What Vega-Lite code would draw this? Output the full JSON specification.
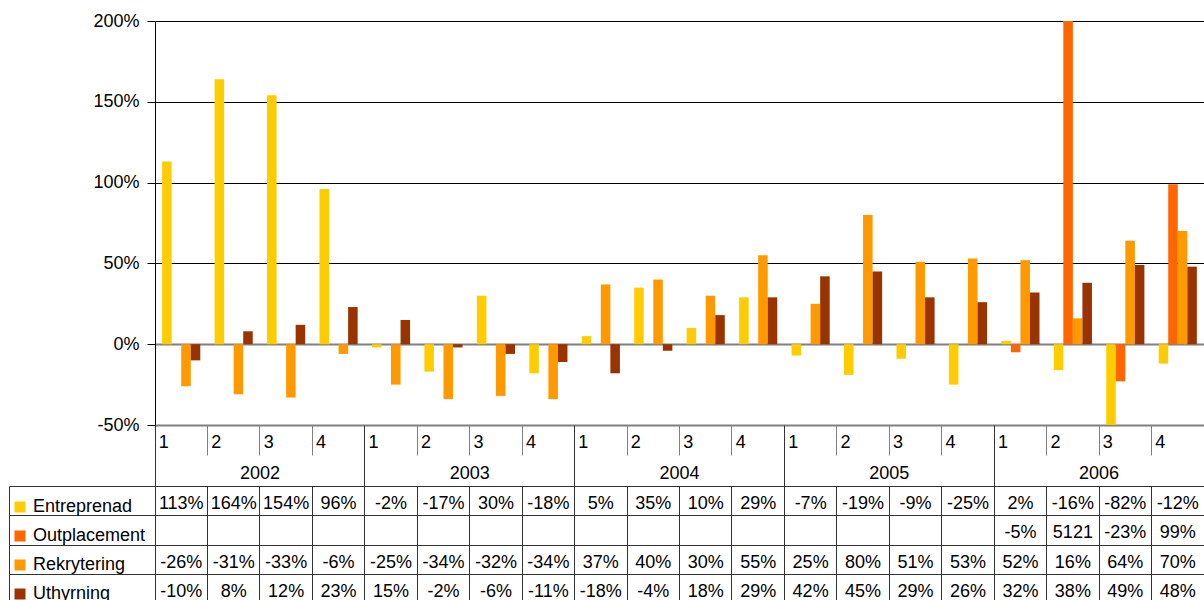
{
  "$schema": "https://vega.github.io/schema/vega-lite/v6.json",
  "width": 1049,
  "height": 404,
  "autosize": {"type": "none"},
  "padding": {"left": 155, "top": 21, "right": 0, "bottom": 175},
  "background": "white",
  "config": {
    "font": "Liberation Sans",
    "view": {"stroke": null},
    "text": {"font": "Liberation Sans"}
  },
  "datasets": {
    "vals": [
      {"q": "2002-1", "series": "Entreprenad", "pct": 113, "label": "113%"},
      {"q": "2002-2", "series": "Entreprenad", "pct": 164, "label": "164%"},
      {"q": "2002-3", "series": "Entreprenad", "pct": 154, "label": "154%"},
      {"q": "2002-4", "series": "Entreprenad", "pct": 96, "label": "96%"},
      {"q": "2003-1", "series": "Entreprenad", "pct": -2, "label": "-2%"},
      {"q": "2003-2", "series": "Entreprenad", "pct": -17, "label": "-17%"},
      {"q": "2003-3", "series": "Entreprenad", "pct": 30, "label": "30%"},
      {"q": "2003-4", "series": "Entreprenad", "pct": -18, "label": "-18%"},
      {"q": "2004-1", "series": "Entreprenad", "pct": 5, "label": "5%"},
      {"q": "2004-2", "series": "Entreprenad", "pct": 35, "label": "35%"},
      {"q": "2004-3", "series": "Entreprenad", "pct": 10, "label": "10%"},
      {"q": "2004-4", "series": "Entreprenad", "pct": 29, "label": "29%"},
      {"q": "2005-1", "series": "Entreprenad", "pct": -7, "label": "-7%"},
      {"q": "2005-2", "series": "Entreprenad", "pct": -19, "label": "-19%"},
      {"q": "2005-3", "series": "Entreprenad", "pct": -9, "label": "-9%"},
      {"q": "2005-4", "series": "Entreprenad", "pct": -25, "label": "-25%"},
      {"q": "2006-1", "series": "Entreprenad", "pct": 2, "label": "2%"},
      {"q": "2006-2", "series": "Entreprenad", "pct": -16, "label": "-16%"},
      {"q": "2006-3", "series": "Entreprenad", "pct": -82, "label": "-82%"},
      {"q": "2006-4", "series": "Entreprenad", "pct": -12, "label": "-12%"},
      {"q": "2006-1", "series": "Outplacement", "pct": -5, "label": "-5%"},
      {"q": "2006-2", "series": "Outplacement", "pct": 5121, "label": "5121"},
      {"q": "2006-3", "series": "Outplacement", "pct": -23, "label": "-23%"},
      {"q": "2006-4", "series": "Outplacement", "pct": 99, "label": "99%"},
      {"q": "2002-1", "series": "Rekrytering", "pct": -26, "label": "-26%"},
      {"q": "2002-2", "series": "Rekrytering", "pct": -31, "label": "-31%"},
      {"q": "2002-3", "series": "Rekrytering", "pct": -33, "label": "-33%"},
      {"q": "2002-4", "series": "Rekrytering", "pct": -6, "label": "-6%"},
      {"q": "2003-1", "series": "Rekrytering", "pct": -25, "label": "-25%"},
      {"q": "2003-2", "series": "Rekrytering", "pct": -34, "label": "-34%"},
      {"q": "2003-3", "series": "Rekrytering", "pct": -32, "label": "-32%"},
      {"q": "2003-4", "series": "Rekrytering", "pct": -34, "label": "-34%"},
      {"q": "2004-1", "series": "Rekrytering", "pct": 37, "label": "37%"},
      {"q": "2004-2", "series": "Rekrytering", "pct": 40, "label": "40%"},
      {"q": "2004-3", "series": "Rekrytering", "pct": 30, "label": "30%"},
      {"q": "2004-4", "series": "Rekrytering", "pct": 55, "label": "55%"},
      {"q": "2005-1", "series": "Rekrytering", "pct": 25, "label": "25%"},
      {"q": "2005-2", "series": "Rekrytering", "pct": 80, "label": "80%"},
      {"q": "2005-3", "series": "Rekrytering", "pct": 51, "label": "51%"},
      {"q": "2005-4", "series": "Rekrytering", "pct": 53, "label": "53%"},
      {"q": "2006-1", "series": "Rekrytering", "pct": 52, "label": "52%"},
      {"q": "2006-2", "series": "Rekrytering", "pct": 16, "label": "16%"},
      {"q": "2006-3", "series": "Rekrytering", "pct": 64, "label": "64%"},
      {"q": "2006-4", "series": "Rekrytering", "pct": 70, "label": "70%"},
      {"q": "2002-1", "series": "Uthyrning", "pct": -10, "label": "-10%"},
      {"q": "2002-2", "series": "Uthyrning", "pct": 8, "label": "8%"},
      {"q": "2002-3", "series": "Uthyrning", "pct": 12, "label": "12%"},
      {"q": "2002-4", "series": "Uthyrning", "pct": 23, "label": "23%"},
      {"q": "2003-1", "series": "Uthyrning", "pct": 15, "label": "15%"},
      {"q": "2003-2", "series": "Uthyrning", "pct": -2, "label": "-2%"},
      {"q": "2003-3", "series": "Uthyrning", "pct": -6, "label": "-6%"},
      {"q": "2003-4", "series": "Uthyrning", "pct": -11, "label": "-11%"},
      {"q": "2004-1", "series": "Uthyrning", "pct": -18, "label": "-18%"},
      {"q": "2004-2", "series": "Uthyrning", "pct": -4, "label": "-4%"},
      {"q": "2004-3", "series": "Uthyrning", "pct": 18, "label": "18%"},
      {"q": "2004-4", "series": "Uthyrning", "pct": 29, "label": "29%"},
      {"q": "2005-1", "series": "Uthyrning", "pct": 42, "label": "42%"},
      {"q": "2005-2", "series": "Uthyrning", "pct": 45, "label": "45%"},
      {"q": "2005-3", "series": "Uthyrning", "pct": 29, "label": "29%"},
      {"q": "2005-4", "series": "Uthyrning", "pct": 26, "label": "26%"},
      {"q": "2006-1", "series": "Uthyrning", "pct": 32, "label": "32%"},
      {"q": "2006-2", "series": "Uthyrning", "pct": 38, "label": "38%"},
      {"q": "2006-3", "series": "Uthyrning", "pct": 49, "label": "49%"},
      {"q": "2006-4", "series": "Uthyrning", "pct": 48, "label": "48%"}
    ],
    "years": [
      {"q": "2002-3", "year": "2002"},
      {"q": "2003-3", "year": "2003"},
      {"q": "2004-3", "year": "2004"},
      {"q": "2005-3", "year": "2005"},
      {"q": "2006-3", "year": "2006"}
    ]
  },
  "layer": [
    {
      "data": {"name": "vals"},
      "mark": {"type": "bar", "clip": true},
      "encoding": {
        "x": {
          "field": "q", "type": "nominal",
          "scale": {"type": "band", "paddingInner": 0, "paddingOuter": 0},
          "axis": {
            "orient": "bottom", "title": null, "bandPosition": 0,
            "tickSize": 30, "tickColor": "#808080", "tickWidth": 1,
            "domainColor": "#808080", "domainWidth": 2,
            "labelExpr": "slice(datum.value, 5)", "labelAlign": "left", "labelBaseline": "alphabetic",
            "labelPadding": -8, "labelOffset": -22.5, "labelAngle": 0,
            "labelFontSize": 18, "labelColor": "#000",
            "labelOverlap": false, "labelBound": false, "labelFlush": false, "grid": false
          }
        },
        "xOffset": {
          "field": "series", "type": "nominal",
          "scale": {"type": "band", "paddingInner": 0, "paddingOuter": 0.75,
                    "domain": ["Entreprenad", "Outplacement", "Rekrytering", "Uthyrning"]}
        },
        "y": {
          "field": "pct", "type": "quantitative",
          "scale": {"domain": [-50, 200], "nice": false},
          "axis": {
            "orient": "left", "title": null, "values": [-50, 0, 50, 100, 150, 200],
            "labelExpr": "datum.value + '%'", "labelFontSize": 18, "labelColor": "#000",
            "labelPadding": 8, "tickSize": 8, "tickColor": "#000", "domainColor": "#000",
            "grid": true,
            "gridColor": {"condition": {"test": "datum.value === 0 || datum.value === -50", "value": "#808080"}, "value": "#000"},
            "gridWidth": {"condition": {"test": "datum.value === 0", "value": 2}, "value": 1}
          }
        },
        "color": {
          "field": "series", "type": "nominal",
          "scale": {"domain": ["Entreprenad", "Outplacement", "Rekrytering", "Uthyrning"],
                    "range": ["#FFCC00", "#FF6600", "#FF9900", "#993300"]},
          "legend": {
            "orient": "none", "legendX": -144, "legendY": 477, "title": null,
            "padding": 0, "symbolType": "square", "symbolSize": 121, "symbolStrokeWidth": 0,
            "labelFontSize": 18, "labelColor": "#000", "labelOffset": 4, "rowPadding": 11
          }
        }
      }
    },
    {
      "data": {"name": "vals"},
      "mark": {"type": "text", "fontSize": 18, "color": "#000", "baseline": "alphabetic", "dy": 8},
      "encoding": {
        "x": {
          "field": "q", "type": "nominal", "scale": {"type": "band"},
          "axis": {
            "orient": "bottom", "title": null, "offset": 61, "bandPosition": 0,
            "tickSize": 120, "tickColor": "#333", "labels": false,
            "domain": true, "domainColor": "#333", "grid": false
          }
        },
        "y": {
          "field": "series", "type": "nominal",
          "scale": {"type": "band", "domain": ["Entreprenad", "Outplacement", "Rekrytering", "Uthyrning"],
                    "range": [465, 583], "paddingInner": 0, "paddingOuter": 0},
          "axis": {
            "orient": "left", "title": null, "offset": 146, "bandPosition": 0,
            "tickSize": -146, "tickColor": "#333", "labels": false,
            "domain": true, "domainColor": "#333", "grid": true, "gridColor": "#333"
          }
        },
        "text": {"field": "label"}
      }
    },
    {
      "data": {"name": "years"},
      "mark": {"type": "text", "fontSize": 18, "color": "#000", "baseline": "alphabetic", "dy": 8},
      "encoding": {
        "x": {
          "field": "q", "type": "nominal", "bandPosition": 0, "scale": {"type": "band"},
          "axis": {
            "orient": "bottom", "title": null, "bandPosition": 0,
            "values": ["2002-1", "2003-1", "2004-1", "2005-1", "2006-1"],
            "tickSize": 61, "tickColor": "#333", "labels": false, "domain": false, "grid": false
          }
        },
        "y": {
          "datum": "Y", "type": "nominal",
          "scale": {"type": "band", "domain": ["Y"], "range": [434, 465], "paddingInner": 0, "paddingOuter": 0},
          "axis": null
        },
        "text": {"field": "year"}
      }
    }
  ],
  "resolve": {
    "scale": {"y": "independent"},
    "axis": {"x": "independent", "y": "independent"}
  }
}
